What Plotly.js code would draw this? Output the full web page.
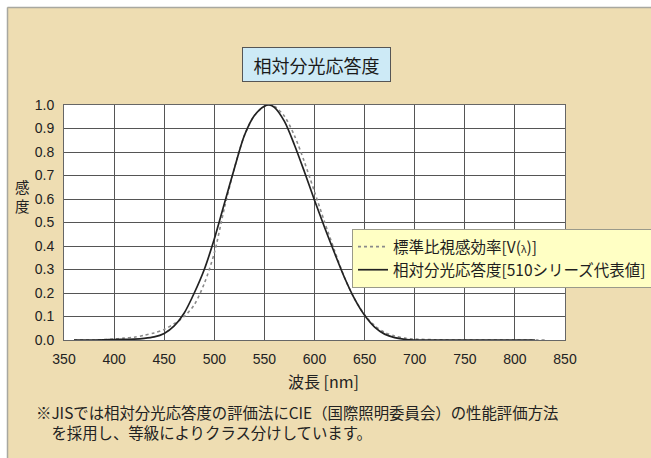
<!DOCTYPE html>
<html>
<head>
<meta charset="utf-8">
<script src="https://cdn.plot.ly/plotly-3.0.1.min.js"></script>
<style>
  html, body { margin: 0; padding: 0; background: #ffffff; overflow: hidden; }
  #chart { width: 651px; height: 458px; }
</style>
</head>
<body>
<div id="chart"></div>
<script>
// Standard relative luminous efficiency V(λ) (dashed)
const wavelengthStd = [360, 380, 400, 410, 420, 430, 440, 450, 460, 470, 480, 490, 500, 510, 520, 530, 540, 550, 555, 560, 570, 580, 590, 600, 610, 620, 630, 640, 650, 660, 670, 680, 690, 700, 720, 750, 800, 830];
const valueStd = [0.0, 0.0, 0.004, 0.008, 0.012, 0.02, 0.03, 0.045, 0.07, 0.10, 0.15, 0.24, 0.37, 0.56, 0.73, 0.87, 0.955, 0.995, 1.0, 0.995, 0.952, 0.870, 0.757, 0.631, 0.503, 0.381, 0.265, 0.175, 0.107, 0.061, 0.032, 0.017, 0.008, 0.004, 0.001, 0.0, 0.0, 0.0];

// Relative spectral response, 510 series representative values (solid)
const wavelength510 = [360, 380, 400, 420, 430, 440, 450, 460, 470, 480, 490, 500, 510, 520, 530, 540, 550, 555, 560, 570, 580, 590, 600, 610, 620, 630, 640, 650, 660, 670, 680, 690, 700, 750, 800, 820];
const value510 = [0.0, 0.0, 0.002, 0.004, 0.007, 0.013, 0.028, 0.06, 0.115, 0.20, 0.30, 0.43, 0.58, 0.73, 0.87, 0.955, 0.995, 1.0, 0.99, 0.93, 0.83, 0.715, 0.595, 0.48, 0.37, 0.265, 0.175, 0.105, 0.055, 0.025, 0.01, 0.003, 0.0, 0.0, 0.0, 0.0];

const legendStd = '標準比視感効率[V(<span style="font-size:10px">λ</span>)]';
const legend510 = '相対分光応答度[510シリーズ代表値]';
const chartTitle = '相対分光応答度';
const xTitle = '波長 [nm]';
const yTitle = '感<br>度';
const noteText = '※JISでは相対分光応答度の評価法にCIE（国際照明委員会）の性能評価方法<br>　を採用し、等級によりクラス分けしています。';

const xTicks = [350, 400, 450, 500, 550, 600, 650, 700, 750, 800, 850];
const yTicks = [0, 0.1, 0.2, 0.3, 0.4, 0.5, 0.6, 0.7, 0.8, 0.9, 1.0];

const jp = '"Noto Sans CJK JP", "Noto Sans", sans-serif';
const num = '"Liberation Sans", Arial, sans-serif';

const W = 651, H = 458;
const L = 64, R = 565, T = 105, B = 340;
const px = x => (x - L) / (R - L);
const py = y => (B - y) / (B - T);

const traces = [
  {
    x: wavelengthStd, y: valueStd, type: 'scatter', mode: 'lines',
    name: legendStd, line: { color: '#8a8a8a', width: 1.6, dash: 'dot', shape: 'spline', smoothing: 0.8 }
  },
  {
    x: wavelength510, y: value510, type: 'scatter', mode: 'lines',
    name: legend510, line: { color: '#222222', width: 1.7, shape: 'spline', smoothing: 0.8 }
  }
];

const layout = {
  width: W, height: H,
  margin: { l: L, r: W - R, t: T, b: H - B, pad: 0, autoexpand: false },
  paper_bgcolor: '#EEDDB2',
  plot_bgcolor: '#ffffff',
  showlegend: true,
  legend: {
    x: px(352), y: py(229), xanchor: 'left', yanchor: 'top',
    bgcolor: '#FFFFC4', bordercolor: '#9a9a8a', borderwidth: 1,
    font: { family: jp, size: 15.5, color: '#1e1e1e' },
    tracegroupgap: 0, itemwidth: 30
  },
  xaxis: {
    range: [350, 850], tickvals: xTicks, ticktext: xTicks.map(String),
    showgrid: true, gridcolor: '#555555', gridwidth: 1,
    showline: true, linecolor: '#666666', linewidth: 1, mirror: true,
    zeroline: false, ticks: '', ticklabelstandoff: 6, automargin: false,
    tickfont: { family: num, size: 14, color: '#222222' }, fixedrange: true
  },
  yaxis: {
    range: [0, 1], tickvals: yTicks, ticktext: yTicks.map(v => v.toFixed(1)),
    showgrid: true, gridcolor: '#555555', gridwidth: 1,
    showline: true, linecolor: '#666666', linewidth: 1, mirror: true,
    zeroline: false, ticks: '', ticklabelstandoff: 6, automargin: false,
    tickfont: { family: num, size: 14, color: '#222222' }, fixedrange: true
  },
  shapes: [
    { type: 'rect', xref: 'paper', yref: 'paper', x0: px(-5), x1: px(W + 5), y0: py(7), y1: py(-5), fillcolor: '#ffffff', line: { width: 0 }, layer: 'above' },
    { type: 'rect', xref: 'paper', yref: 'paper', x0: px(-5), x1: px(7), y0: py(H + 5), y1: py(-5), fillcolor: '#ffffff', line: { width: 0 }, layer: 'above' },
    { type: 'line', xref: 'paper', yref: 'paper', x0: px(7.5), x1: px(W + 5), y0: py(7.5), y1: py(7.5), line: { color: '#a8a8a0', width: 1.5 } },
    { type: 'line', xref: 'paper', yref: 'paper', x0: px(7.5), x1: px(7.5), y0: py(7.5), y1: py(H + 5), line: { color: '#a8a8a0', width: 1.5 } }
  ],
  annotations: [
    {
      text: chartTitle, xref: 'paper', yref: 'paper', x: px(316), y: py(64),
      xanchor: 'center', yanchor: 'middle', showarrow: false,
      font: { family: jp, size: 18, color: '#1a1a1a' },
      bgcolor: '#CDEAF6', bordercolor: '#555555', borderwidth: 1,
      width: 145, height: 31
    },
    {
      text: yTitle, xref: 'paper', yref: 'paper', x: px(22), y: py(196),
      xanchor: 'center', yanchor: 'middle', showarrow: false,
      font: { family: jp, size: 14.5, color: '#222222' }
    },
    {
      text: xTitle, xref: 'paper', yref: 'paper', x: px(323), y: py(381),
      xanchor: 'center', yanchor: 'middle', showarrow: false,
      font: { family: jp, size: 16, color: '#222222' }
    },
    {
      text: noteText, xref: 'paper', yref: 'paper', x: px(34), y: py(422),
      xanchor: 'left', yanchor: 'middle', align: 'left', showarrow: false,
      font: { family: jp, size: 15.4, color: '#222222' }
    }
  ]
};

Plotly.newPlot('chart', traces, layout, { displayModeBar: false, staticPlot: true });
</script>
</body>
</html>
